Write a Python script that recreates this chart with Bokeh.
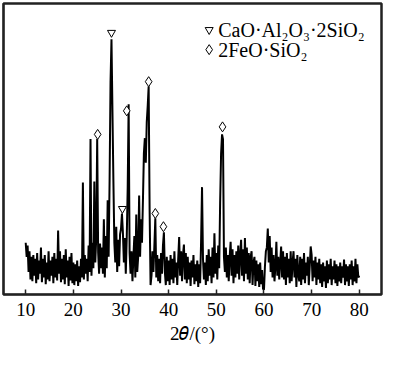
import numpy as np
from bokeh.plotting import figure
from bokeh.models import FixedTicker
from bokeh.core.properties import value
from bokeh.embed import file_html
from bokeh.resources import INLINE

# ---- data ----
two_theta_start = 10.0
two_theta_step = 0.2
intensity = [
    55, 40, 52, 24, 46, 16, 40, 14, 42, 20,      # 10.0-11.8
    38, 12, 44, 16, 36, 22, 50, 13, 38, 18,      # 12.0-13.8
    42, 11, 34, 16, 46, 14, 36, 20, 40, 12,      # 14.0-15.8
    44, 18, 38, 15, 68, 22, 46, 13, 38, 16,      # 16.0-17.8
    42, 11, 48, 18, 36, 9, 40, 15, 44, 12,       # 18.0-19.8
    34, 10, 32, 14, 36, 9, 30, 13, 38, 18,       # 20.0-21.8
    119, 16, 42, 22, 38, 14, 52, 24, 165, 20,    # 22.0-23.8
    55, 28, 120, 34, 60, 165, 45, 22, 54, 28,    # 24.0-25.8
    50, 22, 80, 18, 62, 28, 100, 40, 120, 226,   # 26.0-27.8
    271, 195, 121, 55, 34, 72, 24, 58, 30, 64,   # 28.0-29.8
    70, 86, 65, 34, 60, 22, 60, 113, 202, 44,    # 30.0-31.8
    22, 46, 14, 40, 62, 18, 85, 24, 40, 105,     # 32.0-33.8
    40, 80, 55, 100, 150, 166, 140, 183, 200, 221,  # 34.0-35.8
    90, 10, 20, 46, 24, 52, 81, 18, 42, 14,      # 36.0-37.8
    38, 12, 44, 22, 52, 66, 24, 10, 40, 14,      # 38.0-39.8
    36, 10, 42, 16, 38, 12, 46, 18, 34, 10,      # 40.0-41.8
    38, 61, 20, 46, 14, 42, 53, 16, 44, 12,      # 42.0-43.8
    40, 16, 34, 9, 36, 18, 42, 11, 32, 14,       # 44.0-45.8
    36, 8, 32, 12, 56, 114, 38, 16, 34, 10,      # 46.0-47.8
    42, 14, 48, 20, 40, 12, 50, 18, 65, 22,      # 48.0-49.8
    44, 16, 52, 28, 98, 150, 170, 165, 40, 24,   # 50.0-51.8
    50, 18, 42, 14, 40, 56, 20, 48, 12, 42,      # 52.0-53.8
    18, 46, 22, 52, 16, 42, 58, 20, 48, 14,      # 54.0-55.8
    60, 22, 50, 16, 44, 12, 40, 46, 10, 34,      # 56.0-57.8
    40, 9, 36, 14, 32, 8, 34, 11, 26, 6,         # 58.0-59.8
    5, 30, 46, 50, 70, 34, 62, 24, 50, 18,       # 60.0-61.8
    42, 14, 30, 56, 20, 40, 16, 34, 51, 18,      # 62.0-63.8
    46, 16, 40, 10, 44, 18, 38, 12, 46, 14,      # 64.0-65.8
    34, 46, 18, 38, 8, 42, 22, 14, 40, 10,       # 66.0-67.8
    38, 16, 44, 12, 34, 20, 40, 10, 30, 51,      # 68.0-69.8
    42, 14, 36, 18, 40, 10, 34, 16, 38, 12,      # 70.0-71.8
    32, 8, 34, 14, 30, 7, 36, 12, 32, 16,        # 72.0-73.8
    38, 10, 30, 16, 36, 12, 32, 9, 30, 14,       # 74.0-75.8
    34, 12, 30, 18, 37, 10, 32, 14, 30, 9,       # 76.0-77.8
    32, 16, 36, 10, 30, 14, 38, 12, 32, 18,      # 78.0-79.8
    20,                                          # 80.0
]
two_theta = [round(two_theta_start + i * two_theta_step, 1) for i in range(len(intensity))]

tick_values = [10, 20, 30, 40, 50, 60, 70, 80]

# phase markers
anorthite_x = [28.0, 30.3]
anorthite_y = [278, 91]
fayalite_x = [25.1, 31.2, 35.8, 37.2, 38.9, 51.3]
fayalite_y = [170, 195, 226, 86, 72, 178]

legend_labels = ["CaO·Al₂O₃·2SiO₂", "2FeO·SiO₂"]

FONT = "Liberation Serif"
DARK = "#222222"

p = figure(width=384, height=346, x_range=(5.34, 84.66), y_range=(0, 309),
           output_backend="svg", toolbar_location=None,
           min_border_left=3, min_border_right=3, min_border_top=3)

p.xgrid.visible = False
p.ygrid.visible = False
p.outline_line_color = DARK
p.outline_line_width = 2.5
p.background_fill_color = "white"
p.border_fill_color = "white"

ya = p.left[0]
ya.ticker = FixedTicker(ticks=[])
ya.axis_line_color = DARK
ya.axis_line_width = 1.5
ya.major_tick_line_color = None
ya.minor_tick_line_color = None
ya.major_label_text_color = None

ax = p.below[0]
ax.ticker = FixedTicker(ticks=tick_values)
ax.axis_line_color = DARK
ax.axis_line_width = 1.5
ax.major_tick_in = 5
ax.major_tick_out = 0
ax.major_tick_line_width = 1.5
ax.major_tick_line_color = DARK
ax.minor_tick_line_color = None
ax.major_label_text_font = FONT
ax.major_label_text_font_size = "19px"
ax.major_label_text_color = "black"
ax.major_label_standoff = 8
ax.axis_label = "2𝜃/(°)"
ax.axis_label_text_font = FONT
ax.axis_label_text_font_size = "19px"
ax.axis_label_text_font_style = "normal"
ax.axis_label_text_color = "black"
ax.axis_label_standoff = 4

p.line(two_theta, intensity, line_color="black", line_width=2)

p.scatter(anorthite_x, anorthite_y, marker="inverted_triangle", size=8,
          fill_color="white", line_color="black", line_width=1)
p.scatter(fayalite_x, fayalite_y, marker="diamond", size=10,
          fill_color="white", line_color="black", line_width=1)

# legend
p.scatter([48.5], [281], marker="inverted_triangle", size=8,
          fill_color="white", line_color="black", line_width=1)
p.scatter([48.5], [260], marker="diamond", size=10,
          fill_color="white", line_color="black", line_width=1)
p.text([50.4, 50.4], [281, 260], text=legend_labels,
       text_font=value(FONT), text_font_size="20px",
       text_baseline="middle", text_align="left", text_color="black")

open("out.html", "w").write(file_html(p, INLINE))
